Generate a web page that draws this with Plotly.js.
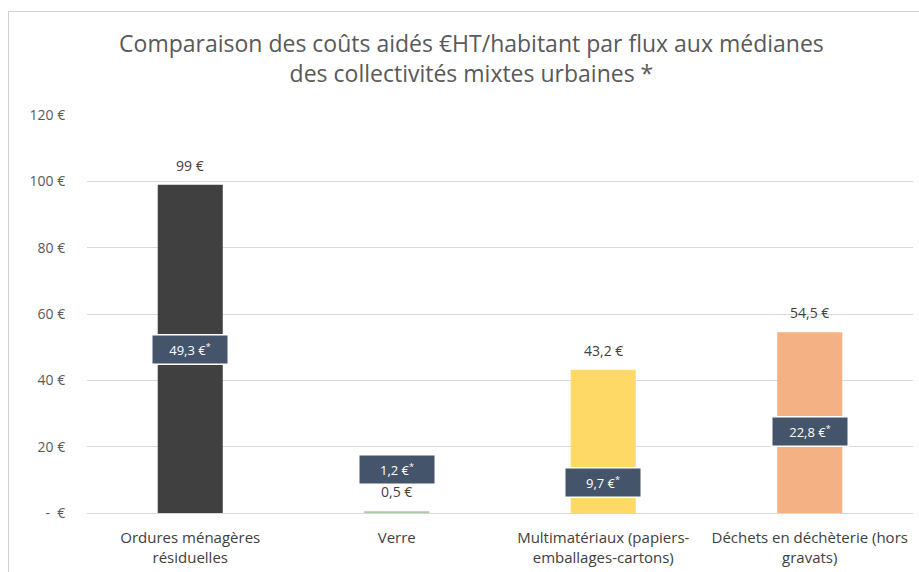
<!DOCTYPE html>
<html>
<head>
<meta charset="utf-8">
<script src="https://cdn.plot.ly/plotly-3.0.1.min.js"></script>
<style>
  html, body { margin: 0; padding: 0; background: #fff; }
  #chart { width: 919px; height: 572px; position: absolute; left: 0; top: 0; }
  #frame { position: absolute; left: 8px; top: 11px; width: 1000px; height: 700px;
           border-top: 1px solid #d0d0d0; border-left: 1px solid #d0d0d0; pointer-events: none; }
</style>
</head>
<body>
<div id="chart"></div>
<div id="frame"></div>
<script>
const categories = [
  "Ordures ménagères<br>résiduelles",
  "Verre",
  "Multimatériaux (papiers-<br>emballages-cartons)",
  "Déchets en déchèterie (hors<br>gravats)"
];
const totalCosts = [99, 0.5, 43.2, 54.5];
const aidedCosts = [49.3, 1.2, 9.7, 22.8];
const yTickVals = [0, 20, 40, 60, 80, 100, 120];
const yTickText = ["-  €", "20 €", "40 €", "60 €", "80 €", "100 €", "120 €"];

const barColors = ["#404040", "#A9C9A4", "#FFD966", "#F4B183"];
const boxYShift = [0, 40, -2, 6];

function fmt(v) { return String(v).replace('.', ',') + ' €'; }

const FONT = "'Open Sans', sans-serif";

const trace = {
  type: 'bar',
  x: categories,
  y: totalCosts,
  marker: { color: barColors },
  width: 0.315,
  hoverinfo: 'skip'
};

const annotations = [];
categories.forEach((c, i) => {
  annotations.push({
    x: c, y: totalCosts[i], xref: 'x', yref: 'y',
    text: fmt(totalCosts[i]), showarrow: false,
    yanchor: 'bottom', yshift: 8,
    font: { family: FONT, size: 14, color: '#404040' }
  });
  annotations.push({
    x: c, y: aidedCosts[i], xref: 'x', yref: 'y',
    text: fmt(aidedCosts[i]) + '<sup>*</sup>', showarrow: false,
    yanchor: 'middle', yshift: boxYShift[i],
    bgcolor: '#44546A', bordercolor: '#ffffff', borderwidth: 1.5,
    width: 75, height: 28, borderpad: 0,
    font: { family: FONT, size: 13, color: '#ffffff' }
  });
});

const layout = {
  width: 919, height: 572,
  margin: { l: 87, r: 6, t: 115, b: 59 },
  paper_bgcolor: '#ffffff', plot_bgcolor: '#ffffff',
  showlegend: false,
  title: {
    text: 'Comparaison des coûts aidés €HT/habitant par flux aux médianes<br>des collectivités mixtes urbaines *',
    x: 0.513, xanchor: 'center', y: 0.909, yanchor: 'top',
    font: { family: FONT, size: 23, color: '#595959' }
  },
  xaxis: {
    type: 'category',
    showgrid: false, zeroline: false, showline: false,
    ticks: 'outside', ticklen: 11, tickcolor: 'rgba(0,0,0,0)',
    tickfont: { family: FONT, size: 15, color: '#404040' }
  },
  yaxis: {
    range: [0, 120],
    tickvals: yTickVals, ticktext: yTickText,
    showgrid: true, gridcolor: '#d9d9d9', gridwidth: 1,
    zeroline: true, zerolinecolor: '#d9d9d9', zerolinewidth: 1,
    showline: false,
    ticks: 'outside', ticklen: 18, tickcolor: 'rgba(0,0,0,0)',
    tickfont: { family: FONT, size: 14, color: '#595959' }
  },
  annotations: annotations
};

Plotly.newPlot('chart', [trace], layout, { staticPlot: true, displayModeBar: false });
</script>
</body>
</html>
